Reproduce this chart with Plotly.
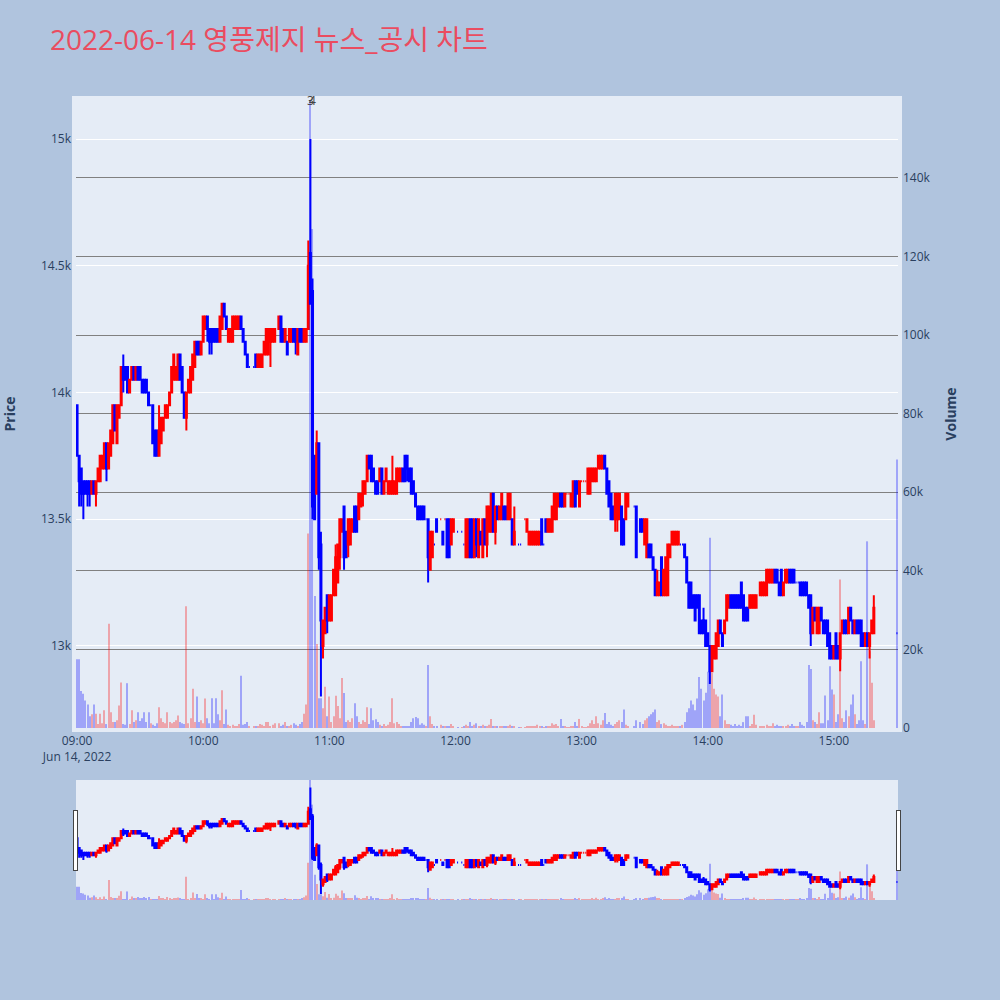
import pandas as pd
import plotly.graph_objects as go

TITLE = "2022-06-14 영풍제지 뉴스_공시 차트"
SESSION_START = "2022-06-14 09:00"
N_CONTINUOUS = 380            # 09:00 .. 15:19 one-minute bars
CLOSE_AUCTION = "2022-06-14 15:30"

N = None
open_ = [
 13950,13750,13700,13650,13650,13650,13650,13600,13650,13600,
 13650,13650,13700,13700,13800,13700,13750,13800,13950,13800,
 13900,13950,14100,14100,14100,14000,14050,14100,14050,14100,
 14100,14050,14050,14050,14000,13950,13950,13850,13850,13750,
 13800,13850,13900,13900,13950,14000,14050,14050,14050,14150,
 14100,14000,13900,14000,14000,14050,14100,14200,14200,14150,
 14200,14250,14300,14250,14250,14250,14250,14250,14200,14250,
 14350,14300,14200,14200,14200,14250,14250,14250,14300,14250,
 14200,14150,14100,N,14100,14150,14100,14100,14100,14150,
 14150,14150,14200,14200,14200,N,14250,14300,14250,14200,
 14200,14200,14200,14250,14250,14150,14250,14250,14200,14200,
 14250,14550,14400,13750,13600,13800,13400,13000,13050,13200,
 13100,13100,13200,13200,13250,13350,13450,13550,13450,13400,
 13400,13450,13550,13550,13500,13550,13600,13600,13650,13750,
 13750,13700,13650,13650,13650,13700,13600,13650,13600,13600,
 13600,13600,13600,13650,13650,13700,13750,13750,13700,13700,
 13650,13600,13550,13550,13550,13550,13500,13500,13300,13350,
 13400,13500,N,13500,13450,13500,13500,13500,13400,13450,
 N,13450,N,13450,13400,13350,13350,13500,13500,13350,
 13500,13350,13450,13350,13500,13400,13450,13450,13600,13450,
 13550,13500,13500,13550,13550,13500,13500,13500,13400,N,
 13400,13400,N,13500,13450,13400,13400,13400,13400,13400,
 13400,13500,13400,13500,13450,13450,13450,13500,13500,13550,
 13600,13600,13550,13600,13600,13550,13550,13650,13650,13550,
 13650,13650,13650,13600,13600,13650,13650,13650,13700,13700,
 13700,13750,13700,13650,13600,13550,13500,13500,13500,13550,
 13500,13500,13550,N,N,13550,13550,N,13500,13500,
 13400,13350,13400,13400,13350,13300,13200,13200,13350,13200,
 13200,13200,13350,13400,13400,13400,13400,13400,13400,13400,
 13350,13250,13250,13200,13200,13200,13200,13100,13100,13100,
 13050,13000,12900,12950,12950,13000,13100,13050,13050,13100,
 13150,13200,13200,13200,13200,13200,13250,13200,13150,13150,
 13150,13150,13150,13150,N,13200,13200,13200,13200,13250,
 13250,13250,13300,13300,13250,13300,13200,13250,13250,13300,
 13300,13300,13250,13250,13250,13250,13250,13250,13200,13200,
 13050,13150,13050,13050,13150,13100,13100,13100,13050,13000,
 12950,13050,13000,12950,13050,13100,13100,13050,13150,13100,
 13050,13100,13100,13100,13050,13000,13050,13000,13050,13050,
 13050,
]
high = [
 13950,13750,13700,13650,13650,13650,13650,13650,13650,13650,
 13700,13750,13750,13800,13800,13800,13850,13950,13950,13950,
 13950,14100,14150,14100,14100,14050,14100,14100,14100,14100,
 14100,14050,14050,14050,14000,13950,13950,13850,13850,13950,
 13900,13900,13950,13950,14000,14100,14150,14100,14150,14150,
 14100,14000,14000,14050,14100,14150,14200,14200,14200,14200,
 14300,14300,14300,14250,14250,14250,14250,14250,14300,14350,
 14350,14300,14250,14250,14300,14300,14300,14300,14300,14250,
 14200,14150,14100,N,14100,14150,14150,14150,14150,14200,
 14250,14250,14250,14250,14250,N,14300,14300,14250,14250,
 14200,14250,14250,14250,14250,14250,14250,14250,14250,14250,
 14600,15000,14450,13750,13850,13800,13450,13100,13150,13200,
 13200,13200,13300,13400,13400,13500,13500,13550,13450,13500,
 13500,13500,13550,13550,13600,13600,13650,13650,13750,13750,
 13750,13700,13650,13650,13700,13700,13650,13700,13650,13650,
 13750,13650,13700,13700,13700,13700,13750,13750,13700,13700,
 13650,13600,13550,13550,13550,13550,13500,13500,13450,13450,
 13400,13500,N,13500,13450,13500,13500,13500,13500,13500,
 N,13450,N,13450,13400,13500,13500,13500,13500,13500,
 13500,13500,13450,13500,13500,13550,13550,13600,13600,13550,
 13550,13550,13600,13550,13550,13600,13600,13500,13550,N,
 13400,13400,N,13500,13500,13450,13450,13450,13450,13450,
 13450,13500,13400,13500,13500,13500,13550,13600,13600,13600,
 13600,13600,13600,13600,13600,13600,13650,13650,13650,13650,
 13650,13650,13650,13700,13700,13700,13700,13700,13750,13750,
 13750,13750,13700,13650,13600,13550,13600,13600,13600,13550,
 13500,13600,13600,N,N,13550,13550,N,13500,13500,
 13500,13500,13400,13400,13350,13300,13300,13250,13350,13300,
 13350,13400,13400,13450,13450,13450,13450,13400,13400,13400,
 13350,13250,13250,13200,13200,13200,13200,13100,13150,13100,
 13050,13000,13000,13000,13050,13100,13100,13050,13100,13200,
 13200,13200,13200,13200,13200,13200,13250,13200,13150,13150,
 13200,13200,13200,13200,N,13250,13250,13250,13300,13300,
 13300,13300,13300,13300,13250,13300,13250,13300,13300,13300,
 13300,13300,13250,13250,13250,13250,13250,13250,13200,13200,
 13150,13150,13150,13150,13150,13100,13100,13100,13050,13000,
 13000,13050,13000,13050,13100,13100,13100,13150,13150,13100,
 13100,13100,13100,13100,13050,13050,13050,13050,13100,13200,
 13050,
]
low = [
 13750,13550,13550,13500,13600,13550,13550,13600,13600,13550,
 13650,13650,13700,13700,13650,13700,13750,13800,13850,13800,
 13900,13950,14000,14050,14000,14000,14050,14050,14050,14050,
 14050,14000,14000,14000,13950,13950,13800,13750,13750,13750,
 13800,13850,13900,13900,13950,14000,14050,14050,14050,14050,
 14000,13900,13850,14000,14000,14050,14100,14150,14150,14150,
 14200,14250,14200,14150,14150,14200,14200,14200,14200,14250,
 14300,14250,14200,14200,14200,14250,14250,14250,14250,14200,
 14150,14100,14100,N,14100,14100,14100,14100,14100,14150,
 14150,14150,14100,14200,14200,N,14250,14200,14200,14200,
 14150,14200,14200,14200,14150,14150,14200,14200,14200,14200,
 14250,14350,13500,13500,13600,13300,12800,12950,13050,13050,
 13100,13100,13200,13200,13250,13300,13450,13300,13350,13350,
 13400,13450,13450,13450,13500,13550,13550,13600,13650,13700,
 13650,13650,13600,13600,13650,13600,13600,13650,13600,13600,
 13600,13600,13600,13650,13650,13650,13650,13650,13650,13600,
 13600,13550,13500,13500,13500,13500,13500,13250,13300,13350,
 13400,13450,N,13500,13400,13500,13350,13350,13400,13450,
 N,13450,N,13450,13400,13350,13350,13350,13350,13350,
 13350,13350,13400,13350,13400,13350,13450,13450,13450,13400,
 13500,13500,13500,13500,13500,13500,13500,13400,13400,N,
 13400,13400,N,13500,13450,13400,13400,13400,13400,13400,
 13400,13400,13400,13450,13450,13450,13450,13500,13500,13550,
 13550,13550,13550,13600,13600,13550,13550,13550,13600,13550,
 13650,13650,13650,13600,13600,13650,13650,13650,13700,13700,
 13700,13700,13600,13550,13500,13500,13450,13450,13500,13400,
 13400,13500,13550,N,N,13550,13350,N,13450,13450,
 13400,13350,13350,13350,13300,13200,13200,13200,13200,13200,
 13200,13200,13350,13400,13400,13400,13400,13400,13400,13350,
 13250,13150,13150,13150,13100,13150,13050,13050,13050,13000,
 13000,12850,12900,12950,12950,13000,13050,13000,13050,13100,
 13150,13150,13150,13150,13150,13150,13150,13100,13100,13100,
 13150,13150,13150,13150,N,13200,13200,13200,13200,13250,
 13250,13250,13250,13250,13200,13200,13200,13250,13250,13250,
 13250,13250,13250,13250,13200,13200,13200,13200,13150,13000,
 13050,13100,13050,13050,13100,13050,13050,13000,12950,12950,
 12950,12950,12950,12900,13050,13050,13050,13050,13100,13050,
 13050,13050,13050,13000,13000,13000,13000,12950,13050,13050,
 13050,
]
close = [
 13750,13650,13600,13600,13600,13600,13600,13650,13600,13650,
 13700,13750,13750,13800,13700,13800,13850,13950,13850,13950,
 13950,14100,14050,14050,14000,14050,14100,14050,14100,14050,
 14050,14000,14000,14000,13950,13950,13800,13750,13750,13850,
 13900,13900,13950,13950,14000,14100,14150,14100,14150,14050,
 14000,13900,14000,14050,14100,14150,14200,14150,14150,14200,
 14300,14300,14250,14200,14200,14200,14200,14200,14300,14350,
 14300,14250,14250,14250,14300,14300,14300,14300,14250,14200,
 14150,14100,14100,N,14100,14100,14150,14150,14150,14200,
 14250,14250,14250,14250,14250,N,14300,14200,14200,14250,
 14150,14250,14250,14200,14200,14250,14200,14200,14250,14250,
 14500,14350,13550,13500,13800,13350,13100,13100,13150,13100,
 13200,13200,13300,13350,13400,13500,13500,13350,13350,13500,
 13500,13500,13450,13450,13600,13600,13650,13650,13750,13700,
 13650,13650,13600,13600,13700,13600,13650,13700,13650,13650,
 13650,13650,13700,13700,13700,13650,13650,13700,13650,13600,
 13600,13550,13500,13500,13500,13500,13500,13350,13450,13450,
 13400,13450,N,13500,13400,13500,13350,13350,13500,13500,
 N,13450,N,13450,13400,13500,13500,13350,13350,13500,
 13400,13500,13400,13500,13400,13550,13550,13600,13450,13550,
 13500,13550,13600,13500,13500,13600,13600,13400,13450,N,
 13400,13400,N,13500,13500,13450,13450,13450,13450,13450,
 13450,13400,13400,13450,13500,13500,13550,13600,13600,13600,
 13550,13550,13600,13600,13600,13600,13650,13550,13600,13650,
 13650,13650,13650,13700,13700,13700,13700,13700,13750,13750,
 13750,13700,13600,13550,13500,13500,13600,13600,13600,13400,
 13400,13600,13600,N,N,13550,13350,N,13450,13450,
 13500,13500,13350,13350,13300,13200,13250,13250,13200,13300,
 13350,13400,13400,13450,13450,13450,13450,13400,13400,13350,
 13250,13150,13150,13150,13100,13150,13050,13050,13050,13000,
 13000,12900,13000,13000,13050,13100,13050,13000,13100,13200,
 13200,13150,13150,13150,13150,13150,13150,13100,13100,13100,
 13200,13200,13200,13200,N,13250,13250,13250,13300,13300,
 13300,13300,13250,13250,13200,13200,13250,13300,13300,13250,
 13250,13250,13250,13250,13200,13200,13200,13200,13150,13050,
 13150,13100,13150,13150,13100,13050,13050,13000,12950,12950,
 13000,12950,12950,13050,13100,13050,13050,13150,13100,13050,
 13100,13050,13050,13000,13000,13050,13000,13050,13100,13150,
 13050,
]
volume = [
 17500,17500,9400,8700,7000,6000,3000,3500,6000,3600,
 1000,3600,1200,4500,1000,26500,4000,1500,1500,2000,
 5700,11600,1000,800,11400,1000,4500,1500,2000,4000,
 1800,2500,4000,1500,4000,1200,800,500,1200,5300,
 2500,1500,1200,4000,1500,1200,1500,2000,3200,1500,
 1200,1000,31000,1200,2500,10000,1500,8000,1500,2000,
 1200,7500,2500,1200,7600,1200,7600,3500,2000,9600,
 1000,4700,800,500,800,500,500,1000,13300,800,
 1000,1500,300,N,300,500,500,1000,800,500,
 1500,1500,500,800,1200,N,1200,500,800,1500,
 500,500,800,1200,800,500,1000,1500,3600,6000,
 49500,165000,127000,33600,21400,7600,7600,5000,10500,3000,
 8000,1500,3000,8200,5600,2500,12700,8900,1500,2000,
 1500,2500,6300,3000,1500,1000,2000,1500,5300,1000,
 5000,2000,2200,1500,800,500,1000,500,800,1500,
 7600,1200,1500,1000,500,500,300,500,500,1500,
 2500,2800,2500,800,1200,800,500,16000,3000,1000,
 300,500,N,800,300,500,300,500,1000,500,
 N,200,N,200,500,800,500,1500,500,800,
 1200,500,500,800,300,500,800,2300,500,300,
 300,500,300,500,300,300,800,500,500,N,
 200,200,N,200,500,300,300,500,500,800,
 500,500,200,300,500,500,1200,800,1000,500,
 2300,500,500,200,200,500,500,1500,500,2300,
 300,200,200,500,1200,2000,1000,3000,1200,800,
 2000,3800,1000,1500,800,500,1000,1500,2000,1500,
 4700,800,500,N,N,300,2000,N,1500,1000,
 2000,2500,3000,3500,4000,4700,1500,2000,1000,1200,
 800,500,500,800,300,500,300,300,800,1500,
 4000,5000,7000,6000,4500,7500,13000,10000,7000,9000,
 14300,48400,14000,10000,8500,8000,3000,8500,2000,1000,
 1000,800,500,1000,500,800,500,1500,3000,3000,
 500,1000,3400,800,N,500,300,500,800,300,
 500,1200,500,800,500,300,500,300,800,500,
 1000,500,300,300,1500,800,500,1500,16000,15000,
 2000,1500,1000,4000,1200,1200,8300,2000,15700,9800,
 8500,1500,3500,37800,2500,1500,4500,3000,6000,8500,
 3500,1000,2000,17000,2000,1000,47500,19500,11500,2000,
 68300,
]
news_labels = ["3", "4"]
news_times = ["2022-06-14 10:51", "2022-06-14 10:52"]

times = list(pd.date_range(SESSION_START, periods=N_CONTINUOUS, freq="min")) + [pd.Timestamp(CLOSE_AUCTION)]
for arr in (open_, high, low, close, volume):
    assert len(arr) == len(times), len(arr)

# volume colour follows the candle direction (flat bars compare with previous close)
vol_colors = []
prev_c = None
for o, c in zip(open_, close):
    if o is None:
        vol_colors.append("rgba(0,0,0,0)")
        continue
    if c > o:
        up = True
    elif c < o:
        up = False
    else:
        up = prev_c is None or c >= prev_c
    vol_colors.append("red" if up else "blue")
    prev_c = c

fig = go.Figure()
fig.add_trace(go.Candlestick(
    x=times, open=open_, high=high, low=low, close=close,
    increasing=dict(line=dict(color="red", width=2), fillcolor="red"),
    decreasing=dict(line=dict(color="blue", width=2), fillcolor="blue"),
    name="Price", showlegend=False,
))
fig.add_trace(go.Bar(
    x=times, y=volume, width=30000,
    marker=dict(color=vol_colors, line=dict(width=0)),
    opacity=0.3, yaxis="y2", name="Volume", showlegend=False,
))

x_range = ["2022-06-14 08:59:30", "2022-06-14 15:30:30"]
fig.update_layout(
    width=1000, height=1000,
    paper_bgcolor="#B0C4DE",
    plot_bgcolor="#E5ECF6",
    font=dict(family="Open Sans, Noto Sans CJK KR, sans-serif", color="#2a3f5f", size=12),
    margin=dict(l=76, r=102, t=100, b=100, pad=4),
    title=dict(text=TITLE, x=0.05, xanchor="left", y=0.96, yanchor="middle",
               font=dict(size=28, color="#EA4C60")),
    showlegend=False,
    xaxis=dict(type="date", range=x_range, showgrid=False,
               rangeslider=dict(visible=True, thickness=0.15, bgcolor="#E5ECF6", range=x_range)),
    yaxis=dict(title=dict(text="<b>Price</b>", font=dict(size=14), standoff=28), automargin=False,
               range=[12676, 15154], gridcolor="white", zeroline=False),
    yaxis2=dict(title=dict(text="<b>Volume</b>", font=dict(size=14), standoff=20), automargin=False,
                overlaying="y", side="right",
                range=[0, 159800], showgrid=True, gridcolor="gray", gridwidth=1, zeroline=False),
    annotations=[dict(x=t, y=1, xref="x", yref="paper", text=s, showarrow=False,
                      yanchor="middle", font=dict(size=12, color="#444"))
                 for t, s in zip(news_times, news_labels)],
)

fig.write_html("out.html", config={"displayModeBar": False},
               post_script="document.body.style.margin='0';")
